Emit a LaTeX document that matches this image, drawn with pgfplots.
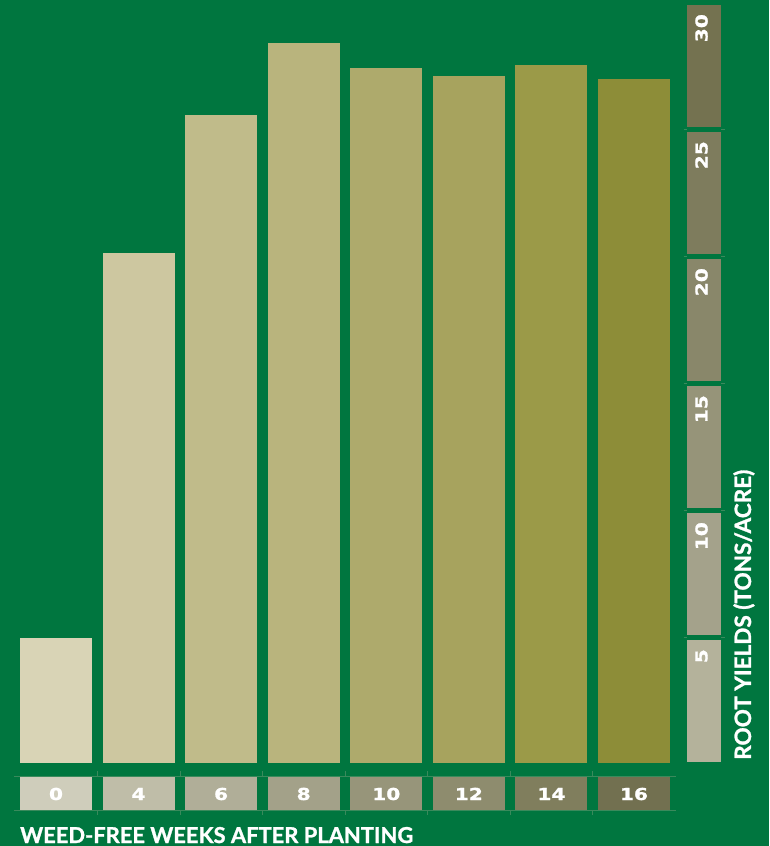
\documentclass[border=0pt]{standalone}
\usepackage{pgfplots}
\pgfplotsset{compat=1.18}
\usepackage{graphicx}
\usepackage{fontspec}
\setmainfont{Lato}[BoldFeatures={FakeBold=1.2}]
\newfontfamily\numfont{DejaVu Sans}[BoldFeatures={FakeBold=1.0}]
\definecolor{bg}{HTML}{00763F}
\definecolor{faint}{HTML}{3A8A5C}
\definecolor{b0}{HTML}{D9D4B6}
\definecolor{b1}{HTML}{CDC7A0}
\definecolor{b2}{HTML}{C0BB8A}
\definecolor{b3}{HTML}{B9B47D}
\definecolor{b4}{HTML}{AEAA6C}
\definecolor{b5}{HTML}{A7A35E}
\definecolor{b6}{HTML}{9B9A48}
\definecolor{b7}{HTML}{8D8D38}
\definecolor{l0}{HTML}{CFCDBB}
\definecolor{l1}{HTML}{BFBDA8}
\definecolor{l2}{HTML}{B0AE98}
\definecolor{l3}{HTML}{A3A189}
\definecolor{l4}{HTML}{97957A}
\definecolor{l5}{HTML}{8E8C6E}
\definecolor{l6}{HTML}{807E5D}
\definecolor{l7}{HTML}{727050}
\definecolor{s5}{HTML}{B4B29B}
\definecolor{s10}{HTML}{A4A28B}
\definecolor{s15}{HTML}{969479}
\definecolor{s20}{HTML}{89876A}
\definecolor{s25}{HTML}{7E7C5D}
\definecolor{s30}{HTML}{747250}
\newcommand{\xl}[1]{\numfont\bfseries\fontsize{16.5}{18}\selectfont\scalebox{1.22}[1]{#1}}
\begin{document}
\begin{tikzpicture}
\fill[bg] (0,0) rectangle (769pt,846pt);
\begin{axis}[
  at={(0,0)}, anchor=south west,
  scale only axis, width=769pt, height=846pt,
  xmin=-0.6782, xmax=8.6351,
  ymin=-3.2677, ymax=30.0394,
  hide axis, clip=false,
]
% bars
\addplot[ybar, bar width=72pt, bar shift=0pt, fill=b0, draw=none] coordinates {(0,4.92)};
\addplot[ybar, bar width=72pt, bar shift=0pt, fill=b1, draw=none] coordinates {(1,20.08)};
\addplot[ybar, bar width=72pt, bar shift=0pt, fill=b2, draw=none] coordinates {(2,25.51)};
\addplot[ybar, bar width=72pt, bar shift=0pt, fill=b3, draw=none] coordinates {(3,28.35)};
\addplot[ybar, bar width=72pt, bar shift=0pt, fill=b4, draw=none] coordinates {(4,27.36)};
\addplot[ybar, bar width=72pt, bar shift=0pt, fill=b5, draw=none] coordinates {(5,27.05)};
\addplot[ybar, bar width=72pt, bar shift=0pt, fill=b6, draw=none] coordinates {(6,27.48)};
\addplot[ybar, bar width=72pt, bar shift=0pt, fill=b7, draw=none] coordinates {(7,26.93)};
% faint guide lines
\draw[faint, line width=0.6pt] (axis cs:-0.509,-0.512) -- (axis cs:7.509,-0.512);
\draw[faint, line width=0.6pt] (axis cs:-0.509,-1.850) -- (axis cs:7.509,-1.850);
\pgfplotsinvokeforeach{0.5,1.5,2.5,3.5,4.5,5.5,6.5}{
  \draw[faint, line width=0.6pt] (axis cs:#1,-0.315) -- (axis cs:#1,-0.512);
  \draw[faint, line width=0.6pt] (axis cs:#1,-1.850) -- (axis cs:#1,-2.047);
}
\pgfplotsinvokeforeach{4.94,9.94,14.94,19.94,24.94}{
  \draw[faint, line width=0.6pt] (axis cs:7.60,#1) -- (axis cs:7.642,#1);
  \draw[faint, line width=0.6pt] (axis cs:8.054,#1) -- (axis cs:8.10,#1);
}
% x label blocks
\fill[l0] (axis cs:-0.436,-0.551) rectangle (axis cs:0.436,-1.850);
\fill[l1] (axis cs:0.564,-0.551) rectangle (axis cs:1.436,-1.850);
\fill[l2] (axis cs:1.564,-0.551) rectangle (axis cs:2.436,-1.850);
\fill[l3] (axis cs:2.564,-0.551) rectangle (axis cs:3.436,-1.850);
\fill[l4] (axis cs:3.564,-0.551) rectangle (axis cs:4.436,-1.850);
\fill[l5] (axis cs:4.564,-0.551) rectangle (axis cs:5.436,-1.850);
\fill[l6] (axis cs:5.564,-0.551) rectangle (axis cs:6.436,-1.850);
\fill[l7] (axis cs:6.564,-0.551) rectangle (axis cs:7.436,-1.850);
\node[white, anchor=base, inner sep=0] at (axis cs:0,-1.457) {\xl{0}};
\node[white, anchor=base, inner sep=0] at (axis cs:1,-1.457) {\xl{4}};
\node[white, anchor=base, inner sep=0] at (axis cs:2,-1.457) {\xl{6}};
\node[white, anchor=base, inner sep=0] at (axis cs:3,-1.457) {\xl{8}};
\node[white, anchor=base, inner sep=0] at (axis cs:4,-1.457) {\xl{10}};
\node[white, anchor=base, inner sep=0] at (axis cs:5,-1.457) {\xl{12}};
\node[white, anchor=base, inner sep=0] at (axis cs:6,-1.457) {\xl{14}};
\node[white, anchor=base, inner sep=0] at (axis cs:7,-1.457) {\xl{16}};
% y scale blocks
\fill[s5]  (axis cs:7.642,0.04)  rectangle (axis cs:8.054,4.83);
\fill[s10] (axis cs:7.642,5.04)  rectangle (axis cs:8.054,9.83);
\fill[s15] (axis cs:7.642,10.04) rectangle (axis cs:8.054,14.83);
\fill[s20] (axis cs:7.642,15.04) rectangle (axis cs:8.054,19.83);
\fill[s25] (axis cs:7.642,20.04) rectangle (axis cs:8.054,24.83);
\fill[s30] (axis cs:7.642,25.04) rectangle (axis cs:8.054,29.83);
\node[white, rotate=90, anchor=east, inner sep=0] at (axis cs:7.818,4.49) {\xl{5}};
\node[white, rotate=90, anchor=east, inner sep=0] at (axis cs:7.818,9.49) {\xl{10}};
\node[white, rotate=90, anchor=east, inner sep=0] at (axis cs:7.818,14.49) {\xl{15}};
\node[white, rotate=90, anchor=east, inner sep=0] at (axis cs:7.818,19.49) {\xl{20}};
\node[white, rotate=90, anchor=east, inner sep=0] at (axis cs:7.818,24.49) {\xl{25}};
\node[white, rotate=90, anchor=east, inner sep=0] at (axis cs:7.818,29.49) {\xl{30}};
% axis titles
\node[white, anchor=base west, inner sep=0] at (axis cs:-0.436,-3.15)
  {\resizebox{393pt}{!}{\bfseries WEED-FREE WEEKS AFTER PLANTING}};
\node[white, rotate=90, anchor=base west, inner sep=0] at (axis cs:8.417,0.118)
  {\resizebox{290pt}{!}{\bfseries ROOT YIELDS (TONS/ACRE)}};
\end{axis}
\end{tikzpicture}
\end{document}
